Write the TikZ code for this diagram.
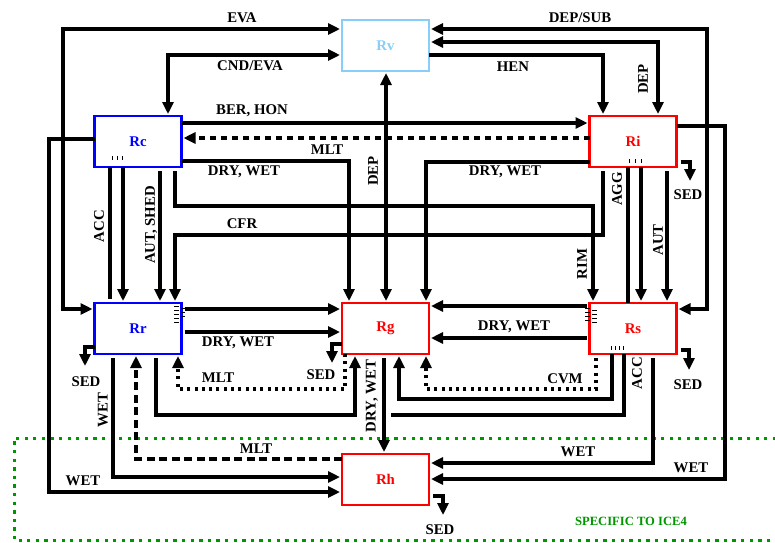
\documentclass[tikz,border=0pt]{standalone}
\usepackage{fontspec}
\setmainfont{Liberation Serif}
\usetikzlibrary{arrows.meta}
\definecolor{vapblue}{RGB}{135,206,250}
\definecolor{icegreen}{RGB}{0,150,0}
\begin{document}
\begin{tikzpicture}[x=1pt,y=-1pt,
  box/.style={draw, line width=2.2pt, minimum width=87pt, minimum height=51pt, inner sep=0pt, outer sep=0pt, font=\fontsize{14.8}{16}\selectfont\bfseries},
  lbl/.style={font=\fontsize{14.8}{16}\selectfont\bfseries, inner sep=0pt},
  vlbl/.style={lbl, rotate=90},
  flow/.style={line width=3.2pt},
  arr/.style={flow, -{Triangle[length=12pt,width=11pt]}, shorten >=2pt},
  darr/.style={flow, {Triangle[length=12pt,width=11pt]}-{Triangle[length=12pt,width=11pt]}, shorten >=2pt, shorten <=2pt},
  gap/.style={shorten <=4pt},
  dsh/.style={dash pattern=on 6pt off 5pt},
  ldsh/.style={dash pattern=on 8pt off 4.5pt},
  dts/.style={dash pattern=on 3pt off 4.3pt},
  tick/.style={line width=0.7pt},
  zone/.style={draw=icegreen, line width=3pt, dash pattern=on 3.3pt off 5.3pt}
]
\useasboundingbox (0,0) rectangle (775,542);

% zone
\draw[zone] (776,438) -- (14,438) -- (14,540) -- (776,540);
\node[lbl, font=\fontsize{12.6}{14}\selectfont\bfseries, text=icegreen] (zlab) at (631,521) {SPECIFIC TO ICE4};

% boxes
\node[box, draw=vapblue, text=vapblue] (Rv) at (385.5,45.5) {Rv};
\node[box, draw=blue, text=blue] (Rc) at (138,141.5) {Rc};
\node[box, draw=red, text=red] (Ri) at (633,141.5) {Ri};
\node[box, draw=blue, text=blue] (Rr) at (138,328.5) {Rr};
\node[box, draw=red, text=red] (Rg) at (385.5,328.5) {Rg};
\node[box, draw=red, text=red] (Rs) at (633,328.5) {Rs};
\node[box, draw=red, text=red] (Rh) at (385.5,479.5) {Rh};

% free ends
\coordinate (sedI) at (690,183);
\coordinate (sedR) at (85,368);
\coordinate (sedG) at (332,365);
\coordinate (sedS) at (689,372);
\coordinate (sedH) at (443,517);
\coordinate (accC) at (110,299);
\coordinate (accS) at (391,415);

% top connectors
\draw[darr] (Rr.west |- 0,309) -- (63,309) -- (63,29) -- (Rv.west |- 0,29);
\draw[arr] (Rc.west |- 0,139) -- (49,139) -- (49,492) -- (Rh.west |- 0,492);
\draw[darr] (Rv.west |- 0,55) -- (168,55) -- (Rc.north -| 168,0);
\draw[arr] (Rc.east |- 0,123) -- (Ri.west |- 0,123);
\draw[arr, dsh] (Ri.west |- 0,138) -- (Rc.east |- 0,138);
\draw[arr] (Rc.east |- 0,161) -- (349,161) -- (Rg.north -| 349,0);
\draw[darr] (Rv.south -| 386,0) -- (Rg.north -| 386,0);
\draw[darr] (Rv.east |- 0,29) -- (707,29) -- (707,309) -- (Rs.east |- 0,309);
\draw[darr] (Rv.east |- 0,42) -- (658,42) -- (Ri.north -| 658,0);
\draw[arr] (Rv.east |- 0,55) -- (603,55) -- (Ri.north -| 603,0);
\draw[arr] (Ri.east |- 0,126) -- (725,126) -- (725,479) -- (Rh.east |- 0,479);
\draw[arr, gap] (Ri.east |- 0,162) -- (690,162) -- (sedI);
\draw[arr] (Ri.west |- 0,162) -- (426,162) -- (Rg.north -| 426,0);

% Ri -> Rs
\draw[flow] (Ri.south -| 628,0) -- (Rs.north -| 628,0);
\draw[arr] (Ri.south -| 641,0) -- (Rs.north -| 641,0);
\draw[arr, gap] (Ri.south -| 667,0) -- (Rs.north -| 667,0);
\draw[arr, gap] (Rc.south -| 175,0) -- (175,206) -- (593,206) -- (Rs.north -| 593,0);
\draw[arr, gap] (Ri.south -| 603,0) -- (603,235) -- (175,235) -- (Rr.north -| 175,0);

% Rc -> Rr
\draw[arr, gap] (Rc.south -| 160,0) -- (Rr.north -| 160,0);
\draw[flow] (Rc.south -| 110,0) -- (accC);
\draw[arr] (Rc.south -| 123,0) -- (Rr.north -| 123,0);

% Rr
\draw[arr, shorten <=3pt] (Rr.east |- 0,309) -- (Rg.west |- 0,309);
\draw[arr, shorten <=3pt] (Rr.east |- 0,332) -- (Rg.west |- 0,332);
\draw[arr] (Rr.west |- 0,347) -- (85,347) -- (sedR);
\draw[arr, gap] (Rr.south -| 113,0) -- (113,477) -- (Rh.west |- 0,477);
\draw[arr, ldsh] (Rh.west |- 0,459) -- (136,459) -- (Rr.south -| 136,0);
\draw[arr, gap] (Rr.south -| 156,0) -- (156,415) -- (355,415) -- (Rg.south -| 355,0);
\draw[arr, dts] (Rg.south -| 345,0) -- (345,389) -- (178,389) -- (Rr.south -| 178,0);

% Rg
\draw[arr] (Rg.west |- 0,344) -- (332,344) -- (sedG);
\draw[arr, gap] (Rg.south -| 384,0) -- (Rh.north -| 384,0);

% Rs
\draw[arr, shorten <=3pt] (Rs.west |- 0,306) -- (Rg.east |- 0,306);
\draw[arr, shorten <=3pt] (Rs.west |- 0,338) -- (Rg.east |- 0,338);
\draw[arr, gap] (Rs.east |- 0,350) -- (689,350) -- (sedS);
\draw[arr, dts, gap] (Rs.south -| 596,0) -- (596,389) -- (426,389) -- (Rg.south -| 426,0);
\draw[arr] (Rs.south -| 612,0) -- (612,399) -- (399,399) -- (Rg.south -| 399,0);
\draw[flow] (Rs.south -| 624,0) -- (624,415) -- (accS);
\draw[arr, gap] (Rs.south -| 653,0) -- (653,463) -- (Rh.east |- 0,463);

% Rh
\draw[arr, gap] (Rh.east |- 0,496) -- (443,496) -- (sedH);

% ticks
\foreach \x in {112,117,122} \draw[tick] (\x,156) -- (\x,160);
\foreach \x in {629,635,641} \draw[tick] (\x,159) -- (\x,163);
\foreach \x in {611,615,619,623} \draw[tick] (\x,346) -- (\x,350);
\foreach \y in {306,310,314,318,322} \draw[tick] (174,\y) -- (179,\y);
\foreach \y in {308,312,316} \draw[tick] (181,\y) -- (185,\y);
\foreach \y in {308,312,316,320} \draw[tick] (585,\y) -- (590,\y);
\foreach \y in {310,314,318,322} \draw[tick] (592,\y) -- (597,\y);

% labels
\node[lbl] (lEVA) at (242,18) {EVA};
\node[lbl] (lCND) at (250,66) {CND/EVA};
\node[lbl] (lBER) at (252,111) {BER, HON};
\node[lbl] (lMLTa) at (327,150) {MLT};
\node[lbl] (lDWa) at (244,172) {DRY, WET};
\node[vlbl] (lDEPa) at (373,171) {DEP};
\node[lbl] (lDEPSUB) at (580,18) {DEP/SUB};
\node[lbl] (lHEN) at (513,67) {HEN};
\node[vlbl] (lDEPb) at (643,79) {DEP};
\node[lbl] (lDWb) at (505,172) {DRY, WET};
\node[lbl] (lSEDi) at (688,195) {SED};
\node[vlbl] (lAGG) at (617,189) {AGG};
\node[vlbl] (lAUT) at (658,240) {AUT};
\node[vlbl] (lRIM) at (582,264) {RIM};
\node[vlbl] (lACCa) at (99,226) {ACC};
\node[vlbl] (lAUTS) at (151,225) {AUT, SHED};
\node[lbl] (lCFR) at (242,224) {CFR};
\node[lbl] (lDWc) at (238,343) {DRY, WET};
\node[lbl] (lSEDr) at (86,382) {SED};
\node[lbl] (lMLTb) at (218,378) {MLT};
\node[lbl] (lSEDg) at (321,375) {SED};
\node[vlbl] (lDWd) at (372,396) {DRY, WET};
\node[lbl] (lDWe) at (514,327) {DRY, WET};
\node[lbl] (lCVM) at (565,379) {CVM};
\node[vlbl] (lACCb) at (637,373) {ACC};
\node[lbl] (lSEDs) at (688,385) {SED};
\node[vlbl] (lWETa) at (103,410) {WET};
\node[lbl] (lMLTc) at (256,449) {MLT};
\node[lbl] (lWETb) at (83,481) {WET};
\node[lbl] (lWETc) at (578,452) {WET};
\node[lbl] (lWETd) at (691,468) {WET};
\node[lbl] (lSEDh) at (440,530) {SED};
\end{tikzpicture}
\end{document}
